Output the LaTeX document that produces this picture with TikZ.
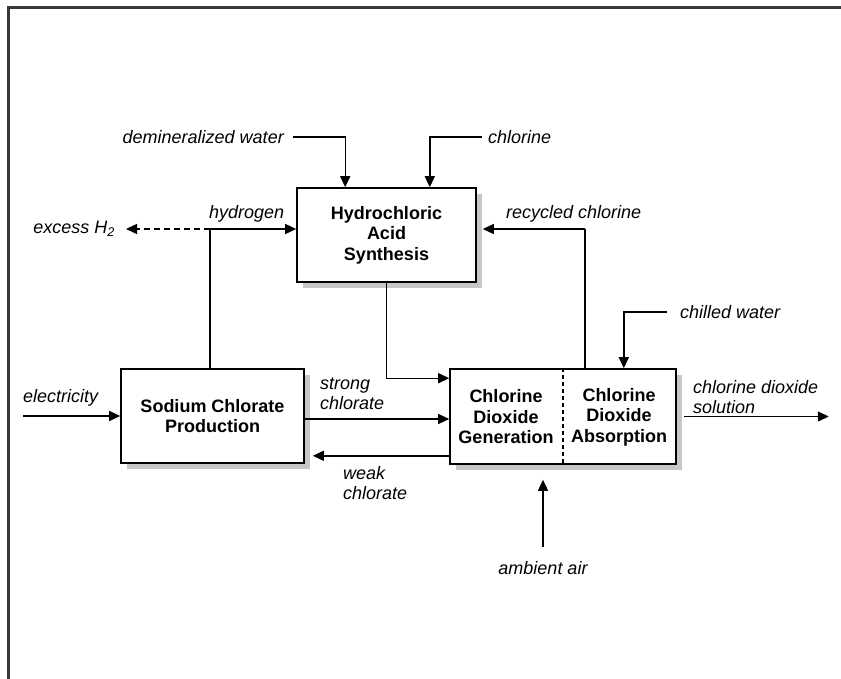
\documentclass[tikz,border=0pt]{standalone}
\usepackage{fontspec}
\setmainfont{Liberation Sans}
\usetikzlibrary{arrows.meta,shadows,calc}
\begin{document}
\begin{tikzpicture}[x=1pt,y=-1pt,
  box/.style={draw, line width=1.6pt, fill=white, inner sep=0pt,
    drop shadow={shadow xshift=6pt,shadow yshift=-6pt,fill=black!22,opacity=1}},
  boxtext/.style={align=center, inner sep=0pt, font=\bfseries\fontsize{18}{20.5}\selectfont},
  lbl/.style={font=\itshape\fontsize{18}{20}\selectfont, inner sep=0pt, align=left},
  flow/.style={line width=1.4pt, -{Triangle[length=11pt,width=10pt]}},
  conn/.style={line width=1.4pt}]
\useasboundingbox (0,0) rectangle (841,679);
\draw[line width=3pt, black!78] (8,681) -- (8,8) -- (843,8);

% boxes
\node[box, minimum width=179pt, minimum height=94pt] (hcl) at (386.5,235) {};
\node[boxtext] (hcltxt) at (hcl.center) {Hydrochloric\\Acid\\Synthesis};
\node[box, minimum width=183pt, minimum height=94pt] (scp) at (212.5,416) {};
\node[boxtext] (scptxt) at (scp.center) {Sodium Chlorate\\Production};
\node[box, minimum width=226pt, minimum height=95pt] (cdo) at (563,416.5) {};
\node[boxtext] (gen) at (506,417) {Chlorine\\Dioxide\\Generation};
\node[boxtext] (abs) at (619,417) {Chlorine\\Dioxide\\Absorption};
\draw[dash pattern=on 4pt off 3pt, line width=1.5pt] (cdo.north) -- (cdo.south);

% labels
\node[lbl, anchor=east] (dw) at (284,137) {demineralized water};
\node[lbl, anchor=west] (cl) at (488,137) {chlorine};
\node[lbl, anchor=west] (hy) at (209,214) {hydrogen};
\node[lbl, anchor=base east] (eh2) at (115,234) {excess H\textsubscript{2}};
\node[lbl, anchor=west] (rc) at (506,214) {recycled chlorine};
\node[lbl, anchor=west] (cw) at (680,312) {chilled water};
\node[lbl, anchor=west] (el) at (23,398) {electricity};
\node[lbl, anchor=west] (sc) at (320,394) {strong\\chlorate};
\node[lbl, anchor=west] (wc) at (343,483) {weak\\chlorate};
\node[lbl, anchor=west] (cds) at (693,397) {chlorine dioxide\\solution};
\node[lbl] (air) at (543,568) {ambient air};

% connectors
\draw[flow] ($(dw.east)+(9,0)$) -| ($(hcl.north west)+(49,0)$);
\draw[flow] ($(cl.west)+(-6,0)$) -| ($(hcl.north east)+(-47,0)$);

\coordinate (hj) at (210,229);
\draw[conn] (scp.north -| hj) -- (hj);
\draw[flow] (hj) -- (hj -| hcl.west);
\draw[flow, dash pattern=on 6pt off 4pt] (hj) -- ($(hj -| eh2.east)+(11,0)$);

\coordinate (rcj) at (585,229);
\draw[conn] (cdo.north -| rcj) -- (rcj);
\draw[flow] (rcj) -- ($(rcj -| hcl.east)+(6,0)$);

\draw[flow] ($(cw.west)+(-13,0)$) -| ($(cdo.north east)+(-53,0)$);

\draw[flow] (hcl.south) |- ($(cdo.north west)+(0,10)$);

\draw[flow] ($(scp.east)+(0,3)$) -- ($(scp.east -| cdo.west)+(0,3)$);
\coordinate (wk) at ($(cdo.south west)+(0,-9)$);
\draw[flow] (wk) -- ($(wk -| scp.east)+(8,0)$);

\draw[flow] (el.west |- scp.west) -- (scp.west);

\coordinate (cdsout) at ($(cdo.east)+(152,0)$);
\draw[flow] ($(cdo.east)+(7,0)$) -- (cdsout);

\draw[flow] ($(air.north)+(0,-14.5)$) -- ($(cdo.south -| air.north)+(0,15)$);
\end{tikzpicture}
\end{document}
